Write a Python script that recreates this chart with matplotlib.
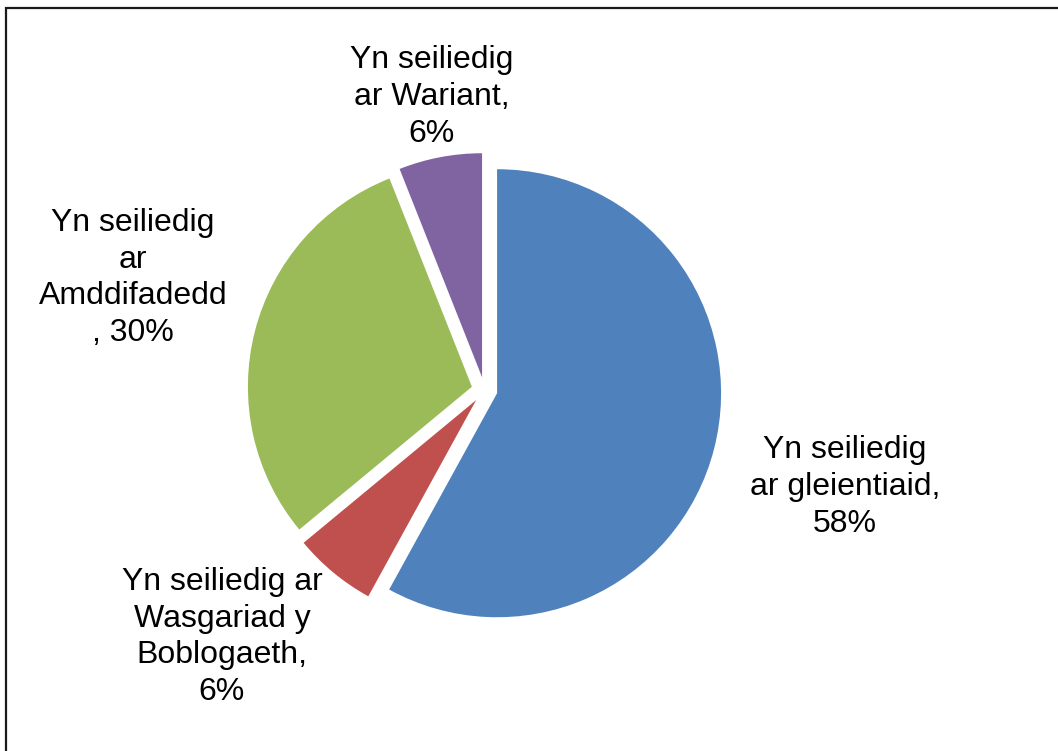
import matplotlib
matplotlib.use("Agg")
import matplotlib.pyplot as plt
from matplotlib.patches import Rectangle

# Dosbarthiad (canran)
categorïau = [
    "Yn seiliedig\nar gleientiaid,\n58%",
    "Yn seiliedig ar\nWasgariad y\nBoblogaeth,\n6%",
    "Yn seiliedig\nar\nAmddifadedd\n, 30%",
    "Yn seiliedig\nar Wariant,\n6%",
]
gwerthoedd = [58, 6, 30, 6]
lliwiau = ["#4F81BD", "#C0504D", "#9BBB59", "#8064A2"]

W, H = 1058, 751
plt.rcParams["font.family"] = ["Liberation Sans", "DejaVu Sans"]

fig = plt.figure(figsize=(W / 100, H / 100), dpi=100)
ax = fig.add_axes([0, 0, 1, 1])

# canol y pastai a'r radiws mewn picseli
cx, cy, r = 484.5, 390.0, 224.0

ax.pie(gwerthoedd, colors=lliwiau, startangle=90, counterclock=False,
       explode=[0.058] * len(gwerthoedd), wedgeprops=dict(linewidth=0))
ax.set_xlim(-cx / r, (W - cx) / r)
ax.set_ylim(-(H - cy) / r, cy / r)
ax.set_aspect("auto")
ax.axis("off")

# safleoedd y labeli (picseli o'r chwith / o'r brig)
safleoedd = [(845, 487), (222, 637), (133, 278), (432, 97)]
for testun, (px, py) in zip(categorïau, safleoedd):
    fig.text(px / W, 1 - py / H, testun, ha="center", va="center",
             fontsize=23, linespacing=1.29, color="black")

# ffrâm
fig.add_artist(Rectangle((6 / W, -0.1), 1.2, 1.1 - 8 / H, transform=fig.transFigure,
                         fill=False, edgecolor="#1a1a1a", linewidth=1.6))

fig.savefig("out.png", dpi=100, facecolor="white")
